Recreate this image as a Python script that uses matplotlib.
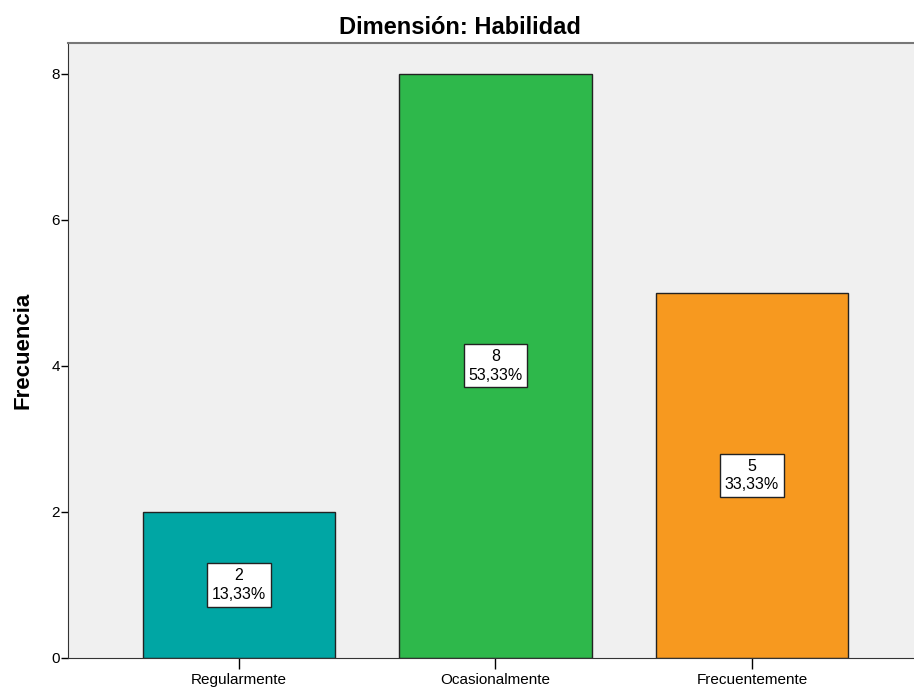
import matplotlib.pyplot as plt

categories = ["Regularmente", "Ocasionalmente", "Frecuentemente"]
counts = [2, 8, 5]
percents = ["13,33%", "53,33%", "33,33%"]
colors = ["#00A6A4", "#2EB84B", "#F7991F"]

plt.rcParams['font.family'] = ['Liberation Sans', 'DejaVu Sans']

fig = plt.figure(figsize=(9.14, 6.89), dpi=100)
ax = fig.add_axes([0.0744, 0.045, 0.9256, 0.8926])
ax.set_facecolor("#F0F0F0")

x = list(range(len(categories)))
ax.bar(x, counts, width=0.75, color=colors, edgecolor="#222222", linewidth=1.0, zorder=2)

for xi, c, p in zip(x, counts, percents):
    ax.text(xi, c / 2, str(c) + "\n" + p, ha="center", va="center", fontsize=11.5,
            linespacing=1.3, zorder=3,
            bbox=dict(boxstyle="square,pad=0.3", facecolor="white", edgecolor="#222222", linewidth=1.0))

ax.set_xlim(-0.667, 2.632)
ax.set_ylim(0, 8.42)
ax.set_yticks([0, 2, 4, 6, 8])
ax.set_xticks(x)
ax.set_xticklabels(categories)
ax.tick_params(axis="x", length=8, width=1, labelsize=11, pad=3)
ax.tick_params(axis="y", length=5, width=1, labelsize=11, pad=1)

ax.spines["right"].set_visible(False)
ax.spines["top"].set_color("#777777")
ax.spines["top"].set_linewidth(1.5)
ax.spines["left"].set_color("#333333")
ax.spines["bottom"].set_color("#333333")

ax.set_ylabel("Frecuencia", fontsize=16, fontweight="bold", labelpad=13)
fig.text(0.503, 0.96, "Dimensión: Habilidad", ha="center", va="center",
         fontsize=17, fontweight="bold")

fig.savefig("out.png", dpi=100)
